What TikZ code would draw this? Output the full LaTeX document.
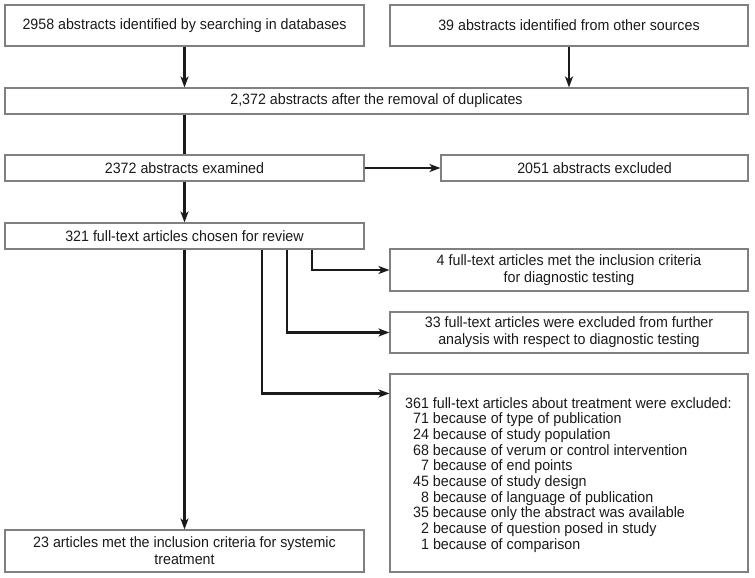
\documentclass[tikz,border=0pt]{standalone}
\usepackage{fontspec}
\setmainfont{Liberation Sans}[FakeStretch=0.95]
\usepackage{xcolor}
\usetikzlibrary{positioning, arrows.meta}
\definecolor{fBox}{HTML}{808080}
\definecolor{fInk}{HTML}{1A1A1A}

\begin{document}
\begin{tikzpicture}[x=1pt, y=-1pt, >={Stealth[length=11pt, width=8pt, inset=3pt]},
  box/.style={rectangle, draw=fBox, line width=1.1pt, inner sep=0pt, align=center,
    font=\fontsize{15}{17}\selectfont, text=fInk},
  arr/.style={->, line width=2.4pt, fInk}]
  \useasboundingbox (0,0) rectangle (755,578);
  % sources
  \node[box, minimum width=359pt, minimum height=41pt] (src1) at (184.5,25.5) {2958 abstracts identified by searching in databases};
  \node[box, minimum width=358pt, minimum height=41pt] (src2) at (569,25.5) {39 abstracts identified from other sources};
  \node[box, minimum width=743pt, minimum height=26pt] (dedup) at (376.5,101) {2,372 abstracts after the removal of duplicates};
  % screening
  \node[box, minimum width=359pt, minimum height=26pt] (exam) at (184.5,168) {2372 abstracts examined};
  \node[box, minimum width=307pt, minimum height=26pt] (excl) at (594.5,168) {2051 abstracts excluded};
  \node[box, minimum width=359pt, minimum height=26pt] (full) at (184.5,236) {321 full-text articles chosen for review};
  % full-text outcomes
  \node[box, minimum width=358pt, minimum height=42pt] (diag) at (569,270) {4 full-text articles met the inclusion criteria\\for diagnostic testing};
  \node[box, minimum width=358pt, minimum height=41pt] (dexcl) at (569,332.5) {33 full-text articles were excluded from further\\analysis with respect to diagnostic testing};
  \node[box, minimum width=358pt, minimum height=198pt] (texcl) at (569,473) {};
  \node[font=\fontsize{15}{15.7}\selectfont, text=fInk, align=left, inner sep=0pt, anchor=north west] (reasons) at (405,397)
    {361 full-text articles about treatment were excluded:\\
     \hspace*{8pt}71 because of type of publication\\
     \hspace*{8pt}24 because of study population\\
     \hspace*{8pt}68 because of verum or control intervention\\
     \hspace*{8pt}\hphantom{0}7 because of end points\\
     \hspace*{8pt}45 because of study design\\
     \hspace*{8pt}\hphantom{0}8 because of language of publication\\
     \hspace*{8pt}35 because only the abstract was available\\
     \hspace*{8pt}\hphantom{0}2 because of question posed in study\\
     \hspace*{8pt}\hphantom{0}1 because of comparison};
  \node[box, minimum width=359pt, minimum height=42pt] (incl) at (184.5,551) {23 articles met the inclusion criteria for systemic\\treatment};
  % connectors
  \draw[arr] (src1.south) -- (src1.south |- dedup.north);
  \draw[arr] (src2.south) -- (src2.south |- dedup.north);
  \draw[line width=2.4pt, fInk] (exam.north |- dedup.south) -- (exam.north);
  \draw[arr] (exam.east) -- (excl.west);
  \draw[arr] (exam.south) -- (full.north);
  \draw[arr] ([xshift=127.5pt]full.south) |- (diag.west);
  \draw[arr] ([xshift=102.5pt]full.south) |- (dexcl.west);
  \draw[arr] ([xshift=77.5pt]full.south) |- ([yshift=-20pt]texcl.north west);
  \draw[arr] (full.south) -- (incl.north);
\end{tikzpicture}
\end{document}
